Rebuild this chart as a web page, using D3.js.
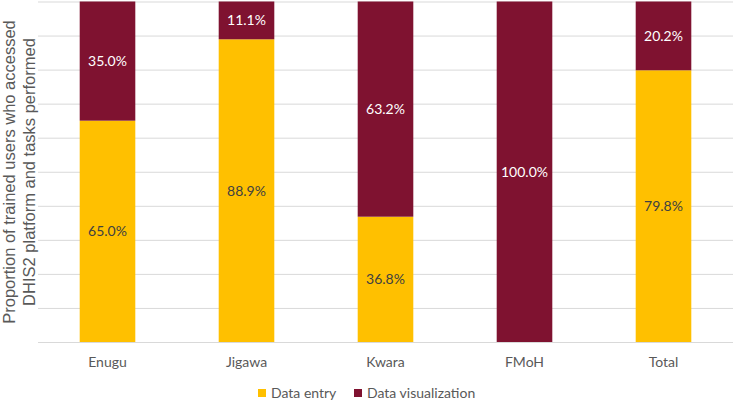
<!DOCTYPE html>
<html>
<head>
<meta charset="utf-8">
<script src="https://cdn.jsdelivr.net/npm/d3@7"></script>
<style>
  body { margin: 0; background: #fff; }
  text { font-family: Lato, "Open Sans", sans-serif; }
</style>
</head>
<body>
<div id="chart"></div>
<script>
var categories = ["Enugu", "Jigawa", "Kwara", "FMoH", "Total"];
var dataEntry = [65.0, 88.9, 36.8, 0, 79.8];
var dataVisualization = [35.0, 11.1, 63.2, 100.0, 20.2];
var seriesNames = ["Data entry", "Data visualization"];
var seriesColors = ["#FFC000", "#7F1230"];

function drawChart() {
    var margin = {top: 1.5, right: 0, bottom: 62, left: 38},
        width = 733 - margin.left - margin.right,
        height = 404 - margin.top - margin.bottom;

    var svg = d3.select("#chart").append("svg")
        .attr("width", 733)
        .attr("height", 404);

    var g = svg.append("g")
        .attr("transform", "translate(" + margin.left + "," + margin.top + ")");

    var x = d3.scaleBand()
        .domain(categories)
        .range([0, width])
        .paddingInner(0.6)
        .paddingOuter(0.3);
    var y = d3.scaleLinear()
        .domain([0, 100])
        .range([height, 0]);

    // gridlines
    g.append("g")
        .call(d3.axisLeft(y).tickValues(d3.range(0, 101, 10)).tickSize(-width).tickFormat(""))
        .call(function (ax) {
            ax.select(".domain").remove();
            ax.selectAll("line").attr("stroke", "#d9d9d9").attr("stroke-width", 1);
        });

    var rows = categories.map(function (c, i) {
        return {name: c, entry: dataEntry[i], vis: dataVisualization[i]};
    });
    var stack = d3.stack().keys(["entry", "vis"]);
    var layers = stack(rows);

    var layer = g.selectAll(".layer")
        .data(layers)
        .enter().append("g")
        .attr("class", "layer")
        .attr("fill", function (d, i) { return seriesColors[i]; });

    layer.selectAll("rect")
        .data(function (d) { return d; })
        .enter().append("rect")
        .attr("x", function (d) { return x(d.data.name); })
        .attr("width", x.bandwidth())
        .attr("y", function (d) { return y(d[1]); })
        .attr("height", function (d) { return y(d[0]) - y(d[1]); });

    layer.selectAll("text")
        .data(function (d, i) {
            return d.map(function (p) { return {p: p, s: i}; });
        })
        .enter().filter(function (d) { return d.p[1] - d.p[0] > 0; })
        .append("text")
        .attr("x", function (d) { return x(d.p.data.name) + x.bandwidth() / 2; })
        .attr("y", function (d) { return y((d.p[0] + d.p[1]) / 2); })
        .attr("dy", "0.35em")
        .attr("text-anchor", "middle")
        .attr("font-size", "14px")
        .attr("fill", function (d) { return d.s === 0 ? "#404040" : "#ffffff"; })
        .text(function (d) { return (d.p[1] - d.p[0]).toFixed(1) + "%"; });

    // x axis
    var xAxis = g.append("g")
        .attr("transform", "translate(0," + height + ")")
        .call(d3.axisBottom(x).tickSize(0).tickPadding(15));
    xAxis.select(".domain").attr("stroke", "#d9d9d9");
    xAxis.selectAll("text")
        .attr("font-size", "14px")
        .attr("fill", "#595959")
        .style("font-family", "Lato, 'Open Sans', sans-serif");

    // y axis title
    svg.append("text")
        .attr("transform", "translate(15,172) rotate(-90)")
        .attr("text-anchor", "middle")
        .attr("font-size", "16.5px")
        .attr("fill", "#595959")
        .style("font-family", "'Liberation Sans', Arial, sans-serif")
        .selectAll("tspan")
        .data(["Proportion of trained users who accessed", "DHIS2 platform and tasks performed"])
        .enter().append("tspan")
        .attr("x", 0)
        .attr("dy", function (d, i) { return i === 0 ? 0 : 20; })
        .text(function (d) { return d; });

    // legend
    var legendX = [258, 354];
    var legend = svg.selectAll(".legend")
        .data(seriesNames)
        .enter().append("g")
        .attr("class", "legend")
        .attr("transform", function (d, i) { return "translate(" + legendX[i] + ",393)"; });
    legend.append("rect")
        .attr("x", 0)
        .attr("y", -4)
        .attr("width", 8)
        .attr("height", 8)
        .attr("fill", function (d, i) { return seriesColors[i]; });
    legend.append("text")
        .attr("x", 13)
        .attr("dy", "0.35em")
        .attr("font-size", "14px")
        .attr("fill", "#595959")
        .text(function (d) { return d; });
}

drawChart();
</script>
</body>
</html>
